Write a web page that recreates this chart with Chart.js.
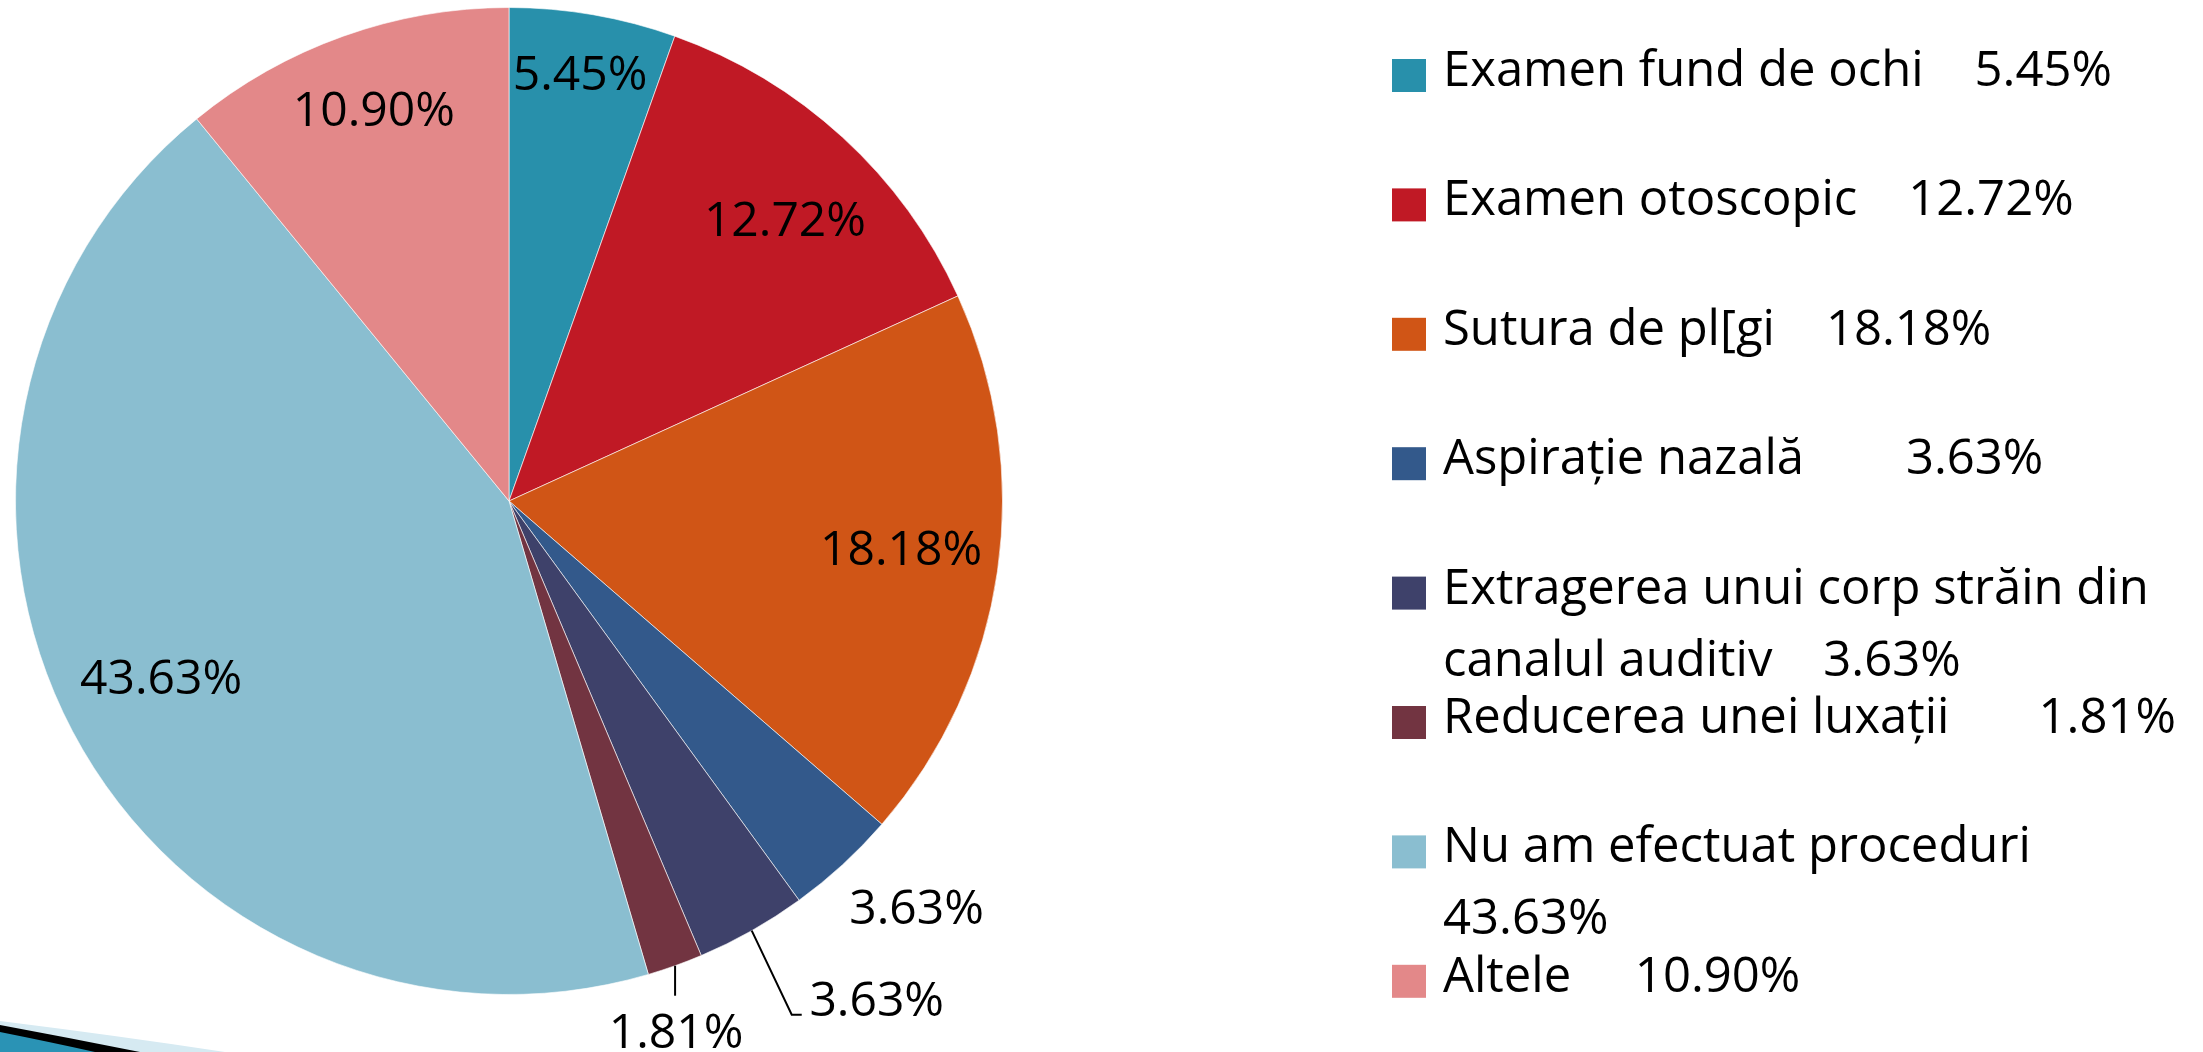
<!DOCTYPE html>
<html>
<head>
<meta charset="utf-8">
<script src="https://cdn.jsdelivr.net/npm/chart.js@4.4.1/dist/chart.umd.min.js"></script>
<style>
  html, body { margin: 0; padding: 0; background: #fff; overflow: hidden; }
  canvas { display: block; }
</style>
</head>
<body>
<canvas id="pie" width="2203" height="1052"></canvas>
<script>
// values
const categories = ['Examen fund de ochi', 'Examen otoscopic', 'Sutura de pl[gi', 'Aspirație nazală',
    'Extragerea unui corp străin din canalul auditiv', 'Reducerea unei luxații', 'Nu am efectuat proceduri', 'Altele'];
const percents = [5.45, 12.72, 18.18, 3.63, 3.63, 1.81, 43.63, 10.90];
const colors = ['#2890AB', '#C01925', '#D05516', '#33598B', '#3E416A', '#723441', '#8ABED0', '#E38889'];

// where each slice label sits (radius factor + angle nudge, or a leader line)
const labelPlace = [
    { r: 0.88, da: -0.4 },
    { r: 0.80, da: 1.8 },
    { r: 0.80, da: -1.4 },
    { r: 1.165, da: -2.6 },
    { leader: [40, 84, 10], text: [75, -16] },
    { leader: [0, 30, 0], text: [1, 35] },
    { r: 0.79, da: 1 },
    { r: 0.84, da: 0.6 }
];
// spaces between name and value in the legend
const legendGap = [4, 4, 4, 8, 4, 7, 4, 5];

const FONT = '48px "Open Sans", "DejaVu Sans", sans-serif';
const LEGEND_FONT = '49px "Open Sans", "DejaVu Sans", sans-serif';
const fmt = v => v.toFixed(2) + '%';

// slide swoosh in the bottom-left corner
const decoration = {
    id: 'decoration',
    beforeDraw(chart) {
        const ctx = chart.ctx;
        const h = chart.height;
        ctx.save();
        ctx.fillStyle = '#D6EAF2';
        ctx.beginPath();
        ctx.moveTo(0, h - 31);
        ctx.quadraticCurveTo(120, h - 16, 225, h);
        ctx.lineTo(0, h);
        ctx.fill();
        ctx.fillStyle = '#000';
        ctx.beginPath();
        ctx.moveTo(0, h - 27);
        ctx.quadraticCurveTo(70, h - 14, 140, h);
        ctx.lineTo(0, h);
        ctx.fill();
        ctx.fillStyle = '#2A93B5';
        ctx.beginPath();
        ctx.moveTo(0, h - 20);
        ctx.quadraticCurveTo(50, h - 10, 95, h);
        ctx.lineTo(0, h);
        ctx.fill();
        ctx.restore();
    }
};

// percentage labels on / around the slices
const sliceLabels = {
    id: 'sliceLabels',
    afterDatasetsDraw(chart) {
        const ctx = chart.ctx;
        const meta = chart.getDatasetMeta(0);
        const values = chart.data.datasets[0].data;
        ctx.save();
        ctx.font = FONT;
        ctx.fillStyle = '#000';
        ctx.textAlign = 'center';
        ctx.textBaseline = 'alphabetic';
        meta.data.forEach((arc, i) => {
            const p = arc.getProps(['x', 'y', 'startAngle', 'endAngle', 'outerRadius'], true);
            const mid = (p.startAngle + p.endAngle) / 2;
            const place = labelPlace[i];
            let tx, ty;
            if (place.leader) {
                const ex = p.x + Math.cos(mid) * p.outerRadius;
                const ey = p.y + Math.sin(mid) * p.outerRadius;
                const bx = ex + place.leader[0], by = ey + place.leader[1];
                const cx = bx + place.leader[2];
                ctx.strokeStyle = '#000';
                ctx.lineWidth = 2;
                ctx.beginPath();
                ctx.moveTo(ex, ey);
                ctx.lineTo(bx, by);
                ctx.lineTo(cx, by);
                ctx.stroke();
                tx = cx + place.text[0];
                ty = by + place.text[1];
            } else {
                const a = mid + place.da * Math.PI / 180;
                tx = p.x + Math.cos(a) * p.outerRadius * place.r;
                ty = p.y + Math.sin(a) * p.outerRadius * place.r;
            }
            ctx.fillText(fmt(values[i]), tx, ty + 17);
        });
        ctx.restore();
    }
};

// legend on the right, drawn by hand to keep the slide's spacing
const sideLegend = {
    id: 'sideLegend',
    afterDraw(chart) {
        const ctx = chart.ctx;
        const values = chart.data.datasets[0].data;
        const boxX = 1392, textX = 1443, firstBase = 86, step = 129.4, lineStep = 72, wrapWidth = 760;
        ctx.save();
        ctx.font = LEGEND_FONT;
        ctx.textAlign = 'left';
        ctx.textBaseline = 'alphabetic';
        chart.data.labels.forEach((name, i) => {
            const base = firstBase + step * i;
            ctx.fillStyle = chart.data.datasets[0].backgroundColor[i];
            ctx.fillRect(boxX, base - 27, 34, 33);

            const lines = [];
            let cur = '';
            name.split(' ').forEach(w => {
                const test = cur ? cur + ' ' + w : w;
                if (cur && ctx.measureText(test).width > wrapWidth) {
                    lines.push(cur);
                    cur = w;
                } else {
                    cur = test;
                }
            });
            const withVal = cur + ' '.repeat(legendGap[i]) + fmt(values[i]);
            if (ctx.measureText(withVal).width > wrapWidth) {
                lines.push(cur);
                lines.push(fmt(values[i]));
            } else {
                lines.push(withVal);
            }

            ctx.fillStyle = '#000';
            lines.forEach((t, k) => ctx.fillText(t, textX, base + k * lineStep));
        });
        ctx.restore();
    }
};

new Chart(document.getElementById('pie'), {
    type: 'pie',
    data: {
        labels: categories,
        datasets: [{
            data: percents,
            backgroundColor: colors,
            borderColor: 'rgba(255,255,255,0.6)',
            borderWidth: 1
        }]
    },
    options: {
        responsive: false,
        devicePixelRatio: 1,
        animation: false,
        events: [],
        layout: { padding: { left: 15, top: 7, right: 1200, bottom: 57 } },
        plugins: {
            legend: { display: false },
            tooltip: { enabled: false }
        }
    },
    plugins: [decoration, sliceLabels, sideLegend]
});
</script>
</body>
</html>
